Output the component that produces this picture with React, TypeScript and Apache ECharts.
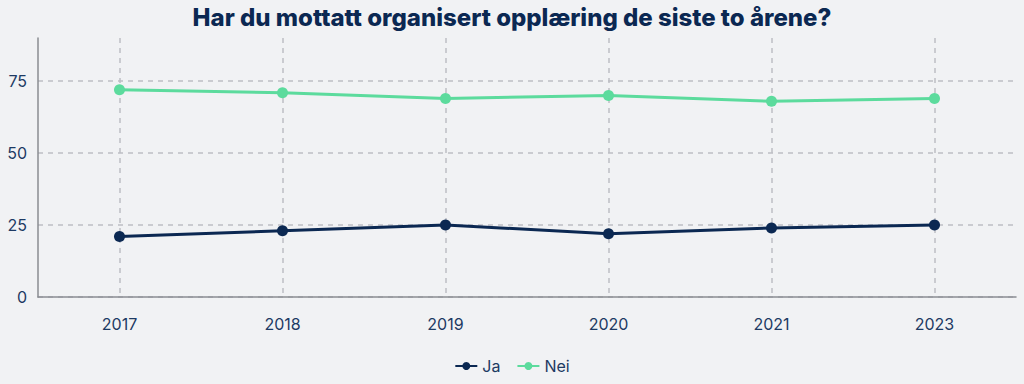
import React, { useEffect, useRef } from "react";
import * as echarts from "echarts";

const categories = ["2017", "2018", "2019", "2020", "2021", "2023"];
const jaValues = [21, 23, 25, 22, 24, 25];
const neiValues = [72, 71, 69, 70, 68, 69];
const titleText = "Har du mottatt organisert opplæring de siste to årene?";

const NAVY = "#0b2852";
const GREEN = "#5cdb9d";
const TEXT = "#1d3a63";
const GRIDC = "#bdbfc3";

export default function App() {
  const ref = useRef<HTMLDivElement>(null);
  useEffect(() => {
    if (!ref.current) return;
    const chart = echarts.init(ref.current, undefined, { renderer: "svg" });
    chart.setOption({
      animation: false,
      backgroundColor: "#f1f2f4",
      textStyle: { fontFamily: "Inter" },
      title: {
        text: titleText,
        left: "center",
        top: 0,
        textStyle: { fontFamily: "Inter", fontWeight: 800, fontSize: 24, color: NAVY },
      },
      legend: {
        bottom: 5,
        left: "center",
        itemWidth: 22,
        itemHeight: 10,
        itemGap: 16,
        textStyle: { color: TEXT, fontSize: 16, fontFamily: "Inter" },
        data: ["Ja", "Nei"],
      },
      grid: { left: 38, right: 8, top: 38, bottom: 87 },
      xAxis: {
        type: "category",
        data: categories,
        boundaryGap: true,
        axisLine: { lineStyle: { color: "#8a8d92", width: 1.5 } },
        axisTick: { show: false },
        axisLabel: { color: TEXT, fontSize: 16, margin: 19 },
        splitLine: {
          show: true,
          alignWithLabel: true,
          lineStyle: { type: [5, 5], color: GRIDC, width: 1.5 },
        },
      } as any,
      yAxis: {
        type: "value",
        min: 0,
        max: 90,
        interval: 25,
        axisLine: { show: true, lineStyle: { color: "#8a8d92", width: 1.5 } },
        axisTick: { show: false },
        axisLabel: {
          color: TEXT,
          fontSize: 16,
          margin: 11,
          formatter: (v: number) => (v % 25 === 0 ? String(v) : ""),
        },
        splitLine: {
          show: true,
          lineStyle: {
            type: [5, 5],
            color: [GRIDC, GRIDC, GRIDC, GRIDC, "rgba(0,0,0,0)"],
            width: 1.5,
          },
        },
      },
      series: [
        {
          name: "Ja",
          type: "line",
          data: jaValues,
          symbol: "circle",
          symbolSize: 11,
          lineStyle: { color: NAVY, width: 3 },
          itemStyle: { color: NAVY },
        },
        {
          name: "Nei",
          type: "line",
          data: neiValues,
          symbol: "circle",
          symbolSize: 11,
          lineStyle: { color: GREEN, width: 3 },
          itemStyle: { color: GREEN },
        },
      ],
    });
    return () => chart.dispose();
  }, []);
  return (
    <div
      ref={ref}
      style={{ position: "fixed", left: 0, top: 0, width: 1024, height: 384 }}
    />
  );
}
